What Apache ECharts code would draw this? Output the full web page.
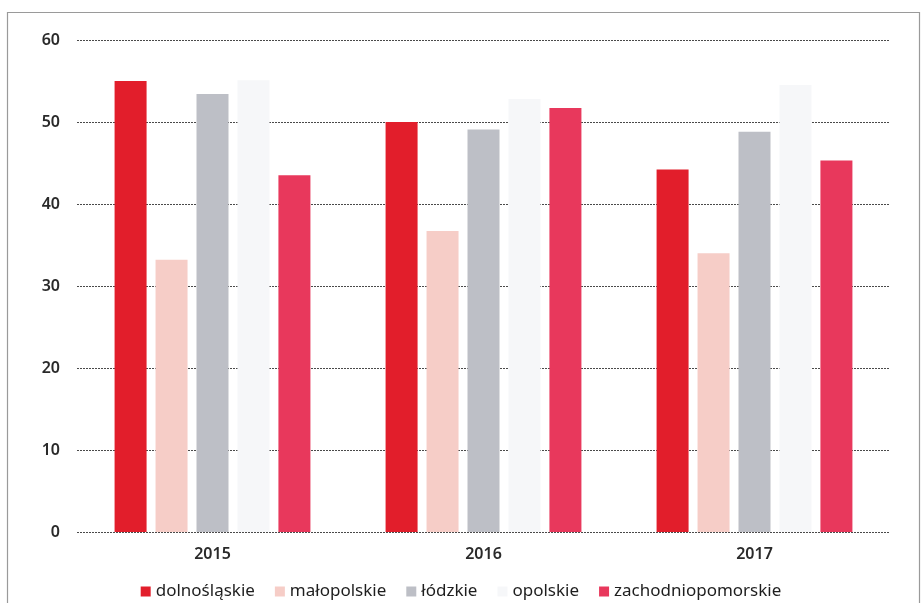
<!DOCTYPE html>
<html>
<head>
<meta charset="utf-8">
<script src="https://cdn.jsdelivr.net/npm/echarts@6/dist/echarts.min.js"></script>
<style>html,body{margin:0;padding:0;background:#fff}#c{width:922px;height:603px}</style>
</head>
<body>
<div id="c"></div>
<script>
const categories = ['2015', '2016', '2017'];
const seriesNames = ['dolnośląskie', 'małopolskie', 'łódzkie', 'opolskie', 'zachodniopomorskie'];
const dolnoslaskie = [55.0, 50.0, 44.2];
const malopolskie = [33.2, 36.7, 34.0];
const lodzkie = [53.4, 49.1, 48.8];
const opolskie = [55.1, 52.8, 54.5];
const zachodniopomorskie = [43.5, 51.7, 45.3];
const yTicks = [0, 10, 20, 30, 40, 50, 60];
const colors = ['#e21e2b', '#f6cdc7', '#bdbfc6', '#f6f7f9', '#e8385c'];

const values = [dolnoslaskie, malopolskie, lodzkie, opolskie, zachodniopomorskie];
const chart = echarts.init(document.getElementById('c'));
const font = 'Noto Sans';
chart.setOption({
  animation: false,
  backgroundColor: '#fff',
  textStyle: { fontFamily: font },
  graphic: [{
    type: 'rect', left: 5, top: 10, shape: { width: 912, height: 620 },
    style: { fill: 'none', stroke: '#9a9a9a', lineWidth: 1.2 }, silent: true, z: -1
  }],
  legend: {
    bottom: -2, left: 'center', itemWidth: 10, itemHeight: 10, itemGap: 20,
    icon: 'rect',
    textStyle: { fontFamily: font, fontSize: 17, color: '#1e1e1e', padding: [0, 0, 0, 0] },
    data: seriesNames
  },
  grid: { left: 77, right: 32, top: 40, bottom: 71 },
  xAxis: {
    type: 'category', data: categories,
    axisLine: { show: false }, axisTick: { show: false },
    axisLabel: { fontFamily: font, fontSize: 16, fontWeight: 600, color: '#2a2a2a', margin: 14 }
  },
  yAxis: {
    type: 'value', min: yTicks[0], max: yTicks[yTicks.length - 1], interval: 10,
    axisLine: { show: false }, axisTick: { show: false },
    axisLabel: { fontFamily: font, fontSize: 16, fontWeight: 600, color: '#2a2a2a', margin: 17 },
    splitLine: { lineStyle: { color: '#4a4a4a', width: 1, type: [2, 1] } }
  },
  series: seriesNames.map((n, i) => ({
    name: n, type: 'bar', data: values[i],
    barWidth: 32, barGap: '28%', barCategoryGap: '26%',
    itemStyle: { color: colors[i] }
  }))
});
</script>
</body>
</html>
